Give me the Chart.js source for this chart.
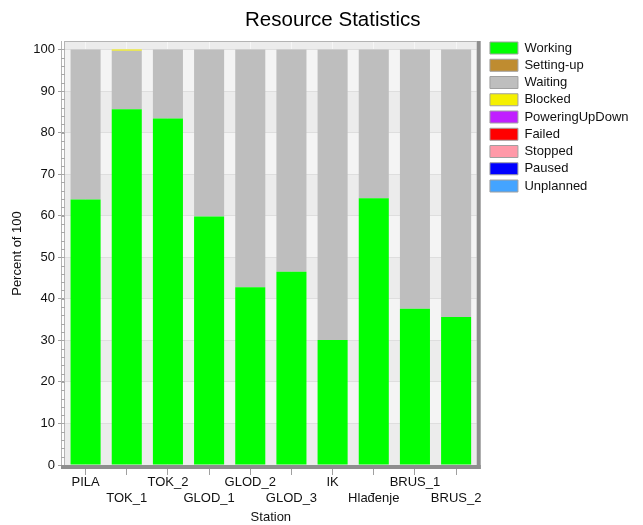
<!DOCTYPE html>
<html>
<head>
<meta charset="utf-8">
<script src="https://cdn.jsdelivr.net/npm/chart.js@4/dist/chart.umd.min.js"></script>
<style>
  body { margin: 0; background: #fff; }
  canvas { display: block; }
</style>
</head>
<body>
<canvas id="myChart" width="643" height="525"></canvas>
<script>
'use strict';

// data (percent of 100)
let stations = ['PILA', 'TOK_1', 'TOK_2', 'GLOD_1', 'GLOD_2', 'GLOD_3', 'IK', 'Hlađenje', 'BRUS_1', 'BRUS_2'];
let working = [63.9, 85.6, 83.4, 59.8, 42.8, 46.5, 30.1, 64.2, 37.6, 35.6];
let settingUp = [0, 0, 0, 0, 0, 0, 0, 0, 0, 0];
let waiting = [36.1, 14.1, 16.6, 40.2, 57.2, 53.5, 69.9, 35.8, 62.4, 64.4];
let blocked = [0, 0.3, 0, 0, 0, 0, 0, 0, 0, 0];
let poweringUpDown = [0, 0, 0, 0, 0, 0, 0, 0, 0, 0];
let failed = [0, 0, 0, 0, 0, 0, 0, 0, 0, 0];
let stopped = [0, 0, 0, 0, 0, 0, 0, 0, 0, 0];
let paused = [0, 0, 0, 0, 0, 0, 0, 0, 0, 0];
let unplanned = [0, 0, 0, 0, 0, 0, 0, 0, 0, 0];
let yTicks = [0, 10, 20, 30, 40, 50, 60, 70, 80, 90, 100];

const font = "'Liberation Sans', Arial, sans-serif";
const titleText = 'Resource Statistics';

function series( label, data, color ) {
  return {
    label: label,
    data: data,
    backgroundColor: color,
    borderWidth: 0,
    barPercentage: 0.73,
    categoryPercentage: 1
  };
}

// banded background + 3D frame like the original tool
const frame = {
  id: 'frame',
  afterLayout( chart ) {
    chart.boxes.forEach( box => {
      if ( box.options && box.options.text === titleText ) {
        box.left += 18;
        box.right = box.left + box.width;
      }
    } );
    chart.legend.left += 9;
    chart.legend.right += 9;
    chart.legend.top = chart.chartArea.top - 4.75;
  },
  beforeDraw( chart ) {
    const { ctx, chartArea } = chart;
    const y = chart.scales.y;
    ctx.save();
    ctx.fillStyle = '#ececec';
    ctx.fillRect( chartArea.left, chartArea.top, chartArea.right - chartArea.left, chartArea.bottom - chartArea.top );
    for ( let i = 0; i < yTicks.length - 1; i++ ) {
      if ( i % 2 === 1 ) {
        const top = y.getPixelForValue( yTicks[i + 1] );
        const bot = y.getPixelForValue( yTicks[i] );
        ctx.fillStyle = '#f4f4f4';
        ctx.fillRect( chartArea.left, top, chartArea.right - chartArea.left, bot - top );
      }
    }
    ctx.restore();
  },
  afterDatasetsDraw( chart ) {
    const { ctx, chartArea } = chart;
    const y = chart.scales.y;
    const l = chartArea.left, r = chartArea.right, t = chartArea.top, b = chartArea.bottom;
    ctx.save();
    ctx.fillStyle = '#b4b4b4';
    ctx.fillRect( l - 1, t - 1, r - l + 1, 1 );
    ctx.fillRect( l - 1, t - 1, 1, b - t + 1 );
    ctx.fillRect( l - 4, t - 1, 1, b - t + 1 );
    // minor ticks every 2
    ctx.fillStyle = '#a8a8a8';
    for ( let v = 0; v <= 100; v += 2 ) {
      const py = Math.round( y.getPixelForValue( v ) );
      ctx.fillRect( l - 4, py, 4, 1 );
    }
    ctx.fillStyle = '#8e8e8e';
    ctx.fillRect( r, t - 1, 4, b - t + 5 );
    ctx.fillRect( l - 4, b, r - l + 8, 4 );
    ctx.restore();
  }
};

let ctx = document.getElementById( 'myChart' ).getContext( '2d' );
let myChart = new Chart( ctx, {
  type: 'bar',
  data: {
    labels: stations,
    datasets: [
      series( 'Working', working, '#00ff00' ),
      series( 'Setting-up', settingUp, '#bf8c30' ),
      series( 'Waiting', waiting, '#bebebe' ),
      series( 'Blocked', blocked, '#f5f000' ),
      series( 'PoweringUpDown', poweringUpDown, '#c020ff' ),
      series( 'Failed', failed, '#ff0000' ),
      series( 'Stopped', stopped, '#ff99a8' ),
      series( 'Paused', paused, '#0000ff' ),
      series( 'Unplanned', unplanned, '#44a4ff' )
    ]
  },
  options: {
    responsive: false,
    animation: false,
    layout: { padding: { left: 0, right: 13.5, top: 0, bottom: 0 } },
    plugins: {
      tooltip: { enabled: false },
      title: {
        display: true,
        text: titleText,
        color: '#000',
        font: { family: font, size: 20.5, weight: 'normal' },
        padding: { top: 8, bottom: 9.4 }
      },
      legend: {
        position: 'right',
        align: 'start',
        labels: {
          color: '#111',
          font: { family: font, size: 13 },
          boxWidth: 28,
          boxHeight: 12,
          padding: 4.25,
          generateLabels( chart ) {
            return chart.data.datasets.map( ( ds, i ) => ( {
              text: ds.label,
              fillStyle: ds.backgroundColor,
              strokeStyle: '#a0a0a0',
              lineWidth: 1,
              fontColor: '#111',
              hidden: false,
              datasetIndex: i
            } ) );
          }
        }
      }
    },
    scales: {
      x: {
        stacked: true,
        afterFit( scale ) { scale.height = 60; },
        border: { display: false },
        grid: { offset: false, color: '#f6f6f6', tickColor: '#a0a0a0', tickLength: 10 },
        ticks: {
          color: '#111',
          padding: 0,
          autoSkip: false,
          maxRotation: 0,
          font: { family: font, size: 13 },
          callback( value, index ) {
            const name = stations[index];
            return index % 2 ? ['', name] : [name, ''];
          }
        },
        title: {
          display: true,
          text: 'Station',
          color: '#111',
          font: { family: font, size: 13 },
          padding: { top: 0, bottom: 0.2 }
        }
      },
      y: {
        stacked: true,
        min: 0,
        max: 101.8,
        afterFit( scale ) { scale.width = 65; },
        afterBuildTicks( scale ) {
          scale.ticks = yTicks.map( v => ( { value: v } ) );
        },
        border: { display: false },
        grid: { color: '#dedede', tickColor: '#a0a0a0', tickLength: 7 },
        ticks: {
          color: '#111',
          padding: 3,
          font: { family: font, size: 13 }
        },
        title: {
          display: true,
          text: 'Percent of 100',
          color: '#111',
          font: { family: font, size: 13 },
          padding: { top: 10, bottom: 0 }
        }
      }
    }
  },
  plugins: [frame]
} );
</script>
</body>
</html>
